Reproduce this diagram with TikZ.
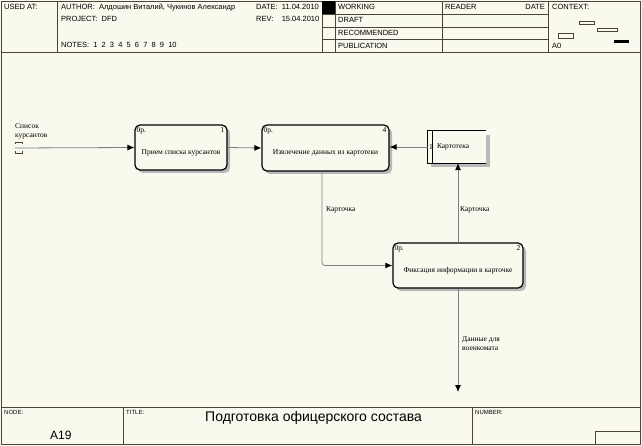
\documentclass[tikz,border=0pt]{standalone}
\usepackage{fontspec}
\setmainfont{Liberation Serif}
\setsansfont{Liberation Sans}
\usetikzlibrary{arrows.meta,shadows}
\definecolor{paper}{HTML}{FAF9EE}
\definecolor{frame}{HTML}{4A4538}

\begin{document}
\begin{tikzpicture}[x=1pt,y=-1pt,
  hdr/.style={anchor=base west,inner sep=0pt,font=\sffamily\fontsize{7.5}{9}\selectfont},
  tiny/.style={anchor=base west,inner sep=0pt,font=\sffamily\fontsize{6}{7}\selectfont},
  proc/.style={draw,line width=1.2pt,rounded corners=5pt,fill=paper,
    drop shadow={shadow xshift=3pt,shadow yshift=-3pt,fill=gray!55,opacity=1},
    font=\fontsize{7.5}{9}\selectfont,text height=15.5pt,text depth=1.5pt},
  corner/.style={inner sep=0pt,font=\fontsize{7.5}{9}\selectfont},
  flow/.style={draw=gray,line width=0.8pt,-{Latex[length=7pt,width=6pt,color=black]}},
  lbl/.style={anchor=west,inner sep=0pt,align=left,font=\fontsize{7.5}{9}\selectfont}]
\useasboundingbox (0,0) rectangle (642,446);
\fill[paper] (0,0) rectangle (642,446);
% frame, header and footer
\draw[frame,line width=0.8pt] (1.5,1) rectangle (640.5,444.5);
\draw[frame,line width=0.8pt] (1.5,52) -- (640.5,52);
\draw[frame] (57,1) -- (57,52);
\draw[frame] (322,1) -- (322,52);
\draw[frame] (335,1) -- (335,52);
\draw[frame] (442,1) -- (442,52);
\draw[frame] (548,1) -- (548,52);
\draw[frame] (322,14) -- (548,14);
\draw[frame] (322,27) -- (548,27);
\draw[frame] (322,39.5) -- (548,39.5);
\fill[black] (322,1) rectangle (335,14);
\node[hdr] (usedat) at (4,10) {USED AT:};
\node[hdr] (author) at (61,10) {AUTHOR:\ \ Алдошин Виталий, Чукинов Александр};
\node[hdr] (project) at (61,22) {PROJECT:\ \ DFD};
\node[hdr] (notes) at (61,48) {NOTES:\ \ 1\ \ 2\ \ 3\ \ 4\ \ 5\ \ 6\ \ 7\ \ 8\ \ 9\ \ 10};
\node[hdr] (date) at (256,10) {DATE:\ \ 11.04.2010};
\node[hdr] (rev) at (256,22) {REV:\ \ \ \ 15.04.2010};
\node[hdr] (working) at (338,10) {WORKING};
\node[hdr] (draft) at (338,23) {DRAFT};
\node[hdr] (recom) at (338,36) {RECOMMENDED};
\node[hdr] (publ) at (338,48.5) {PUBLICATION};
\node[hdr] (reader) at (445,10) {READER};
\node[hdr,anchor=base east] (rdate) at (545,10) {DATE};
\node[hdr] (context) at (552,10) {CONTEXT:};
\node[hdr] (azero) at (552,49) {A0};
\draw[frame] (579,21) rectangle (594,24);
\draw[frame] (597,28) rectangle (617,31);
\draw[frame] (558,33) rectangle (573,38);
\fill[black] (614,40) rectangle (629,43);
\draw[frame,line width=0.8pt] (1.5,407.5) -- (640.5,407.5);
\draw[frame] (123,407.5) -- (123,444.5);
\draw[frame] (472,407.5) -- (472,444.5);
\draw[frame] (595,444.5) |- (640.5,431);
\node[tiny] (nodelbl) at (4,414) {NODE:};
\node[tiny] (titlelbl) at (126,414) {TITLE:};
\node[tiny] (numlbl) at (475,414) {NUMBER:};
\node[anchor=base west,inner sep=0pt,font=\sffamily\fontsize{12}{14}\selectfont] (anum) at (50,439) {A19};
\node[anchor=base west,inner sep=0pt,font=\sffamily\fontsize{14}{16}\selectfont] (title) at (205,421) {Подготовка офицерского состава};
% activities
\node[proc,minimum width=92pt,minimum height=45pt] (a1) at (181,147.5) {Прием списка курсантов};
\node[proc,minimum width=127pt,minimum height=46pt] (a4) at (325.5,148) {Извлечение данных из картотеки};
\node[proc,minimum width=130pt,minimum height=45pt] (a2) at (458,265.5) {Фиксация информации в карточке};
\foreach \b/\n in {a1/1,a4/4,a2/2} {
  \node[corner,anchor=north west] at ([xshift=2pt,yshift=-2.5pt]\b.north west) {0р.};
  \node[corner,anchor=north east] at ([xshift=-3pt,yshift=-2.5pt]\b.north east) {\n};
}
% data store
\node[minimum width=58pt,minimum height=32pt,inner sep=0pt] (ds) at (457,147) {};
\fill[gray!55] ([yshift=-4pt]ds.north east) rectangle ([xshift=4pt,yshift=-4pt]ds.south east);
\fill[gray!55] ([xshift=3pt]ds.south west) rectangle ([xshift=4pt,yshift=-4pt]ds.south east);
\draw[line width=1.2pt] (ds.north east) -- (ds.north west) -- (ds.south west) -- (ds.south east);
\draw[line width=0.8pt] ([xshift=5pt]ds.north west) -- ([xshift=5pt]ds.south west);
\node[corner,anchor=west] (dsnum) at ([xshift=1pt]ds.west) {1};
\node[lbl] (dsname) at ([xshift=9pt]ds.west) {Картотека};
% arrows
\coordinate (in) at (15,148);
\coordinate (out) at (458,392);
\draw[frame] (15,144) |- (22,142) -- (22,144);
\draw[frame] (15,151) |- (22,153) -- (22,151);
\draw[flow] (in) -- (a1.west);
\draw[flow] (a1.east) -- (a4.west);
\draw[flow] (ds.west) -- (a4.east |- ds.west);
\draw[flow,rounded corners=3pt] ([xshift=-3.5pt]a4.south) |- (a2.west);
\draw[flow] (a2.north) -- (a2.north |- ds.south);
\draw[flow] (a2.south) -- (out);
\node[lbl] (inlbl) at (15,131) {Список\\курсантов};
\node[lbl] (card1) at (326,210) {Карточка};
\node[lbl] (card2) at (460,210) {Карточка};
\node[lbl] (outlbl) at (462,344) {Данные для\\военкомата};
\end{tikzpicture}
\end{document}
